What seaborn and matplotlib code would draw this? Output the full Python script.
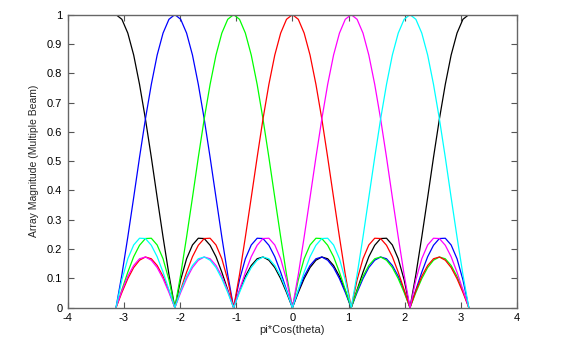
import numpy as np
import pandas as pd
import matplotlib
matplotlib.use("Agg")
import matplotlib.pyplot as plt
import seaborn as sns

# x grid: pi*cos(theta), sampled from -pi to pi (61 samples)
x_vals = [-3.142, -3.037, -2.932, -2.827, -2.723, -2.618, -2.513, -2.409, -2.304, -2.199,
          -2.094, -1.990, -1.885, -1.780, -1.676, -1.571, -1.466, -1.361, -1.257, -1.152,
          -1.047, -0.942, -0.838, -0.733, -0.628, -0.524, -0.419, -0.314, -0.209, -0.105,
          0.000, 0.105, 0.209, 0.314, 0.419, 0.524, 0.628, 0.733, 0.838, 0.942,
          1.047, 1.152, 1.257, 1.361, 1.466, 1.571, 1.676, 1.780, 1.885, 1.990,
          2.094, 2.199, 2.304, 2.409, 2.513, 2.618, 2.723, 2.827, 2.932, 3.037, 3.142]

beam_black = [1.000, .984, .937, .862, .762, .644, .513, .376, .241, .113,
              0, .095, .167, .214, .237, .236, .213, .174, .121, .061,
              0, .058, .107, .144, .167, .173, .162, .137, .099, .052,
              0, .052, .099, .137, .162, .173, .167, .144, .107, .058,
              0, .061, .121, .174, .213, .236, .237, .214, .167, .095,
              0, .113, .241, .376, .513, .644, .762, .862, .937, .984, 1.000]

beam_blue = [0, .113, .241, .376, .513, .644, .762, .862, .937, .984,
             1.000, .984, .937, .862, .762, .644, .513, .376, .241, .113,
             0, .095, .167, .214, .237, .236, .213, .174, .121, .061,
             0, .058, .107, .144, .167, .173, .162, .137, .099, .052,
             0, .052, .099, .137, .162, .173, .167, .144, .107, .058,
             0, .061, .121, .174, .213, .236, .237, .214, .167, .095, 0]

beam_green = [0, .061, .121, .174, .213, .236, .237, .214, .167, .095,
              0, .113, .241, .376, .513, .644, .762, .862, .937, .984,
              1.000, .984, .937, .862, .762, .644, .513, .376, .241, .113,
              0, .095, .167, .214, .237, .236, .213, .174, .121, .061,
              0, .058, .107, .144, .167, .173, .162, .137, .099, .052,
              0, .052, .099, .137, .162, .173, .167, .144, .107, .058, 0]

beam_red = [0, .052, .099, .137, .162, .173, .167, .144, .107, .058,
            0, .061, .121, .174, .213, .236, .237, .214, .167, .095,
            0, .113, .241, .376, .513, .644, .762, .862, .937, .984,
            1.000, .984, .937, .862, .762, .644, .513, .376, .241, .113,
            0, .095, .167, .214, .237, .236, .213, .174, .121, .061,
            0, .058, .107, .144, .167, .173, .162, .137, .099, .052, 0]

beam_magenta = [0, .058, .107, .144, .167, .173, .162, .137, .099, .052,
                0, .052, .099, .137, .162, .173, .167, .144, .107, .058,
                0, .061, .121, .174, .213, .236, .237, .214, .167, .095,
                0, .113, .241, .376, .513, .644, .762, .862, .937, .984,
                1.000, .984, .937, .862, .762, .644, .513, .376, .241, .113,
                0, .095, .167, .214, .237, .236, .213, .174, .121, .061, 0]

beam_cyan = [0, .095, .167, .214, .237, .236, .213, .174, .121, .061,
             0, .058, .107, .144, .167, .173, .162, .137, .099, .052,
             0, .052, .099, .137, .162, .173, .167, .144, .107, .058,
             0, .061, .121, .174, .213, .236, .237, .214, .167, .095,
             0, .113, .241, .376, .513, .644, .762, .862, .937, .984,
             1.000, .984, .937, .862, .762, .644, .513, .376, .241, .113, 0]

beam_names = ["black", "blue", "green", "red", "magenta", "cyan"]
beam_series = [beam_black, beam_blue, beam_green, beam_red, beam_magenta, beam_cyan]
beam_colors = {"black": "#000000", "blue": "#0000ff", "green": "#00ff00",
               "red": "#ff0000", "magenta": "#ff00ff", "cyan": "#00ffff"}

x_ticks = [-4, -3, -2, -1, 0, 1, 2, 3, 4]
y_ticks = [0, 0.1, 0.2, 0.3, 0.4, 0.5, 0.6, 0.7, 0.8, 0.9, 1]
y_tick_labels = ["0", "0.1", "0.2", "0.3", "0.4", "0.5", "0.6", "0.7", "0.8", "0.9", "1"]

rows = []
for name, ys in zip(beam_names, beam_series):
    for xv, yv in zip(x_vals, ys):
        rows.append({"x": xv, "y": yv, "beam": name})
df = pd.DataFrame(rows)

sns.set_theme(style="white")
plt.rcParams["font.family"] = ["Liberation Sans", "DejaVu Sans"]

fig = plt.figure(figsize=(5.7, 3.4), dpi=100)
ax = fig.add_axes([0.119, 0.095, 0.788, 0.862])

sns.lineplot(data=df, x="x", y="y", hue="beam", palette=beam_colors,
             hue_order=beam_names, sort=False, estimator=None, units="beam",
             linewidth=0.9, legend=False, ax=ax)

ax.set_xlim(-4, 4)
ax.set_ylim(0, 1)
ax.set_xticks(x_ticks)
ax.set_xticklabels([str(t) for t in x_ticks])
ax.set_yticks(y_ticks)
ax.set_yticklabels(y_tick_labels)
ax.tick_params(direction="in", length=4, width=0.8, color="#555555",
               labelsize=8, top=True, right=True, bottom=True, left=True,
               labelcolor="#000000", pad=4)
for s in ax.spines.values():
    s.set_color("#666666")
    s.set_linewidth(1.0)
    s.set_visible(True)
ax.set_xlabel("pi*Cos(theta)", fontsize=8, labelpad=1)
ax.set_ylabel("Array Magnitude (Multiple Beam)", fontsize=7.5, labelpad=6)
ax.set_facecolor("white")
fig.patch.set_facecolor("white")

fig.savefig("out.png", dpi=100, facecolor="white")
